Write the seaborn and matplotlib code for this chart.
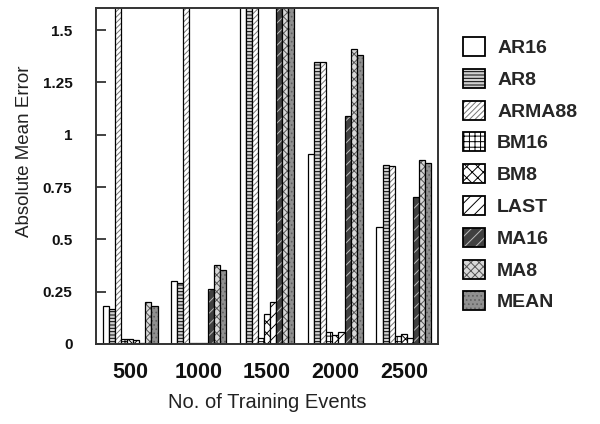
import matplotlib
matplotlib.use("Agg")
import matplotlib.pyplot as plt
import matplotlib.patches as mpatches
from matplotlib.colors import to_rgba
import seaborn as sns
import pandas as pd

# ---- data ----
events = ["500", "1000", "1500", "2000", "2500"]
methods = ["AR16", "AR8", "ARMA88", "BM16", "BM8", "LAST", "MA16", "MA8", "MEAN"]
AR16   = [0.18, 0.30, 2.00, 0.91, 0.56]
AR8    = [0.165, 0.293, 2.00, 1.35, 0.857]
ARMA88 = [2.00, 2.00, 2.00, 1.35, 0.852]
BM16   = [0.025, 0.005, 0.027, 0.055, 0.04]
BM8    = [0.025, 0.005, 0.145, 0.045, 0.05]
LAST   = [0.02, 0.005, 0.20, 0.055, 0.03]
MA16   = [0.005, 0.265, 2.00, 1.09, 0.703]
MA8    = [0.20, 0.376, 2.00, 1.41, 0.881]
MEAN   = [0.18, 0.356, 2.00, 1.38, 0.865]
yticks = [0, 0.25, 0.5, 0.75, 1, 1.25, 1.5]
ytick_labels = ["0", "0.25", "0.5", "0.75", "1", "1.25", "1.5"]

series = {"AR16": AR16, "AR8": AR8, "ARMA88": ARMA88, "BM16": BM16, "BM8": BM8,
          "LAST": LAST, "MA16": MA16, "MA8": MA8, "MEAN": MEAN}
rows = []
for m in methods:
    for e, v in zip(events, series[m]):
        rows.append({"events": e, "method": m, "value": v})
df = pd.DataFrame(rows)

# styles: (facecolor, hatch, hatchcolor)
styles = {
    "AR16":   ("white",   None,     "black"),
    "AR8":    ("#d0d0d0", "-----",  "black"),
    "ARMA88": ("white",   "//////", "#777777"),
    "BM16":   ("white",   "+++",    "black"),
    "BM8":    ("white",   "xxx",    "black"),
    "LAST":   ("white",   "///",    "black"),
    "MA16":   ("#404040", "///",    "#bbbbbb"),
    "MA8":    ("#d8d8d8", "xxxx",   "#555555"),
    "MEAN":   ("#909090", "....",   "#606060"),
}

sns.set_theme(style="white")
plt.rcParams["font.family"] = ["Liberation Sans", "DejaVu Sans"]
plt.rcParams["hatch.linewidth"] = 0.7

fig = plt.figure(figsize=(6, 4.24), dpi=100)
ax = fig.add_axes([0.16, 0.1887, 0.57, 0.792])

sns.barplot(data=df, x="events", y="value", hue="method", order=events,
            hue_order=methods, width=0.8, ax=ax, legend=False,
            edgecolor="black", linewidth=0.9, saturation=1)

for m, cont in zip(methods, ax.containers):
    fc, h, hc = styles[m]
    for p in cont.patches:
        p.set_facecolor(fc)
        p.set_edgecolor("black")
        if h:
            p.set_hatch(h)
            p._hatch_color = to_rgba(hc)

ax.set_ylim(0, 1.605)
ax.set_xlim(-0.5, 4.5)
ax.set_yticks(yticks)
ax.set_yticklabels(ytick_labels)
ax.tick_params(axis="y", direction="in", length=7, width=1.2, color="#222222",
               left=True, pad=17, labelsize=11)
ax.tick_params(axis="x", length=0, pad=13, labelsize=15.5)
for lab in ax.get_yticklabels() + ax.get_xticklabels():
    lab.set_fontweight("bold")
    lab.set_color("#111111")

for s in ax.spines.values():
    s.set_visible(True)
    s.set_color("#333333")
    s.set_linewidth(1.4)

ax.set_xlabel("No. of Training Events", fontsize=14.5, color="#222222", labelpad=7)
ax.set_ylabel("Absolute Mean Error", fontsize=13.5, color="#222222")
ax.yaxis.set_label_coords(-0.185, 0.574)

handles = []
for m in methods:
    fc, h, hc = styles[m]
    patch = mpatches.Patch(facecolor=fc, edgecolor="black", hatch=h, linewidth=1.3, label=m)
    if h:
        patch._hatch_color = to_rgba(hc)
    handles.append(patch)

fig.legend(handles=handles, loc="upper left", bbox_to_anchor=(463 / 600, 1 - 37 / 424),
           frameon=False, borderpad=0, borderaxespad=0, handlelength=1.13,
           handleheight=1.13, handletextpad=0.62, labelspacing=0.6,
           prop={"weight": "bold", "size": 14})

fig.savefig("out.png", dpi=100, facecolor="white")
